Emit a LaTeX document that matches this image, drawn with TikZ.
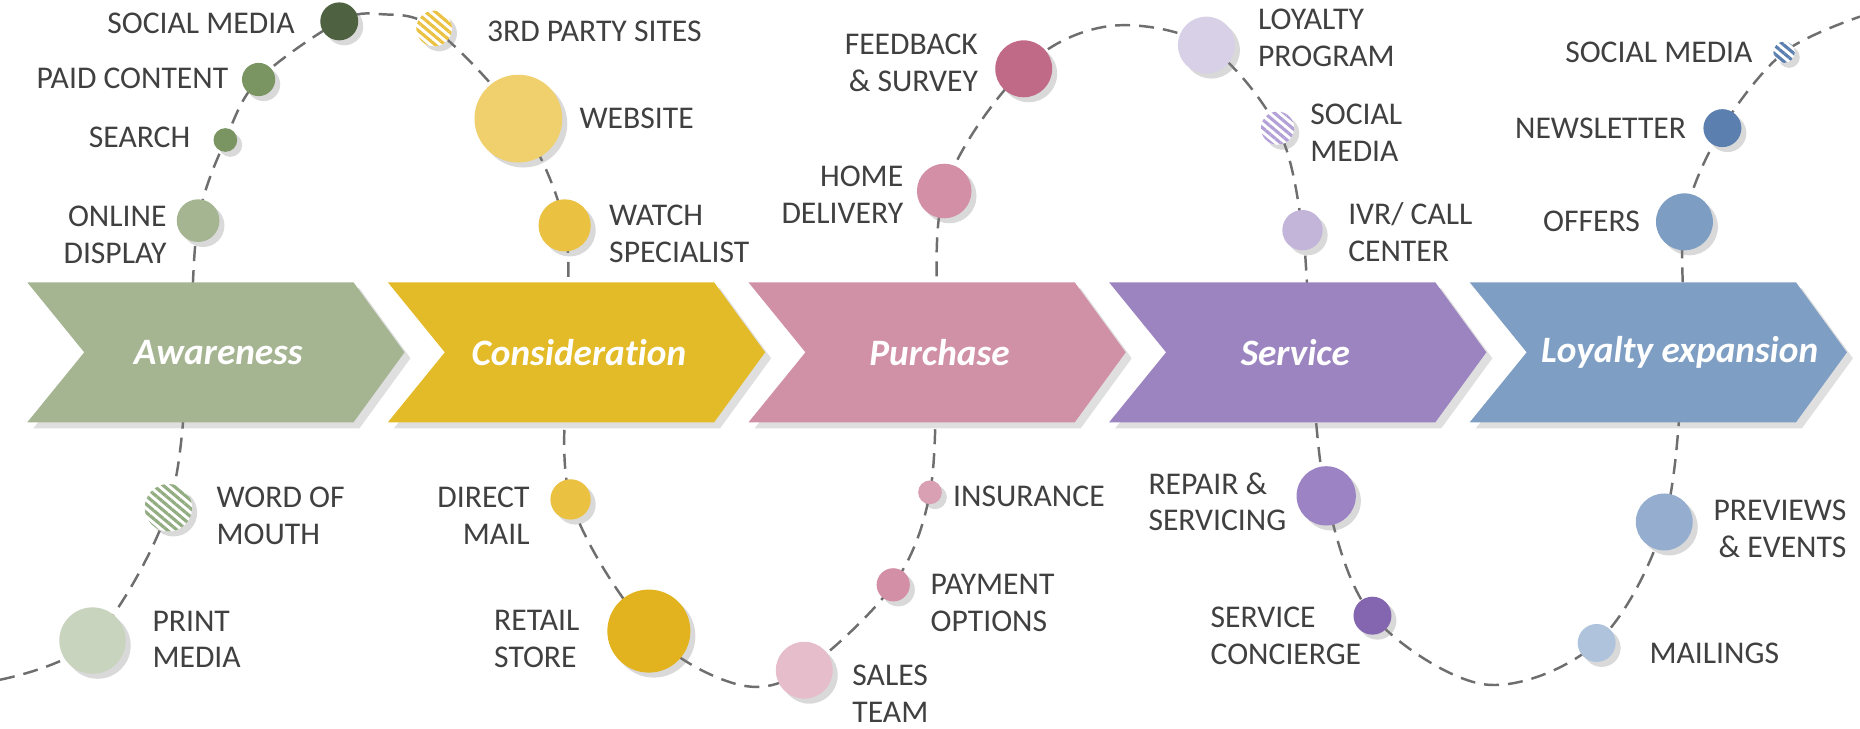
\documentclass[tikz,border=0pt]{standalone}
\usepackage{fontspec}
\setmainfont{Carlito}[Ligatures=NoCommon]
\usetikzlibrary{shadows,patterns.meta,backgrounds}

%% stage colours
\definecolor{stgA}{HTML}{A5B592}
\definecolor{stgB}{HTML}{E3BA28}
\definecolor{stgC}{HTML}{D090A5}
\definecolor{stgD}{HTML}{9C84C0}
\definecolor{stgE}{HTML}{7E9EC3}
%% touchpoint colours
\definecolor{grnPrint}{HTML}{C9D4BF}
\definecolor{grnWom}{HTML}{93AD82}
\definecolor{grnMid}{HTML}{7A9462}
\definecolor{grnDark}{HTML}{4E6140}
\definecolor{yelWeb}{HTML}{EFD06C}
\definecolor{yelMid}{HTML}{EBC141}
\definecolor{yelDeep}{HTML}{E2B31F}
\definecolor{pnkSales}{HTML}{E6BDCA}
\definecolor{pnkMid}{HTML}{D28FA6}
\definecolor{pnkIns}{HTML}{D9A0B4}
\definecolor{pnkDeep}{HTML}{C16A87}
\definecolor{purLoy}{HTML}{D8D0E6}
\definecolor{purSoc}{HTML}{B3A0D6}
\definecolor{purIvr}{HTML}{C3B4DA}
\definecolor{purRep}{HTML}{9C84C4}
\definecolor{purDeep}{HTML}{8465AF}
\definecolor{bluMail}{HTML}{AFC4DC}
\definecolor{bluPrev}{HTML}{95AECF}
\definecolor{bluOff}{HTML}{7E9DC2}
\definecolor{bluDeep}{HTML}{5B80B0}
\definecolor{txtgray}{HTML}{404040}
\definecolor{trailgray}{HTML}{6E6E6E}

\begin{document}
\begin{tikzpicture}[x=0.11862mm, y=-0.11862mm,
  dot/.style={circle, inner sep=0pt, minimum size=#1*0.23724mm,
    drop shadow={opacity=0.3, shadow xshift=0.5mm, shadow yshift=-0.5mm}},
  stripes/.style={preaction={fill=white},
    pattern={Lines[angle=-40, distance=1.8pt, line width=0.9pt]}, pattern color=#1},
  lbl/.style={inner sep=0pt, text=txtgray, font=\fontsize{9}{10.5}\selectfont},
  stage/.style={text=white, font=\fontsize{10.6}{13}\selectfont\bfseries\itshape},
  trail/.style={draw=trailgray, line width=0.7pt, dash pattern=on 1.5mm off 0.9mm}]

  \useasboundingbox (0,0) rectangle (1568,614);

  %% stages
  \foreach \i/\col/\tx/\stg in {0/stgA/184/Awareness, 1/stgB/488/Consideration,
      2/stgC/792/Purchase, 3/stgD/1092/Service, 4/stgE/1416/Loyalty expansion}
  {
    \fill[\col, drop shadow={opacity=0.25, shadow xshift=0.6mm, shadow yshift=-0.6mm}]
      (23+304*\i, 238) -- (298+304*\i, 238) -- (341+304*\i, 297)
      -- (298+304*\i, 356) -- (23+304*\i, 356) -- (71+304*\i, 297) -- cycle;
    \node[stage] (stage\i) at (\tx, 297) {\stg};
  }

  %% awareness
  \node[dot=28, fill=grnPrint] (print) at (78,540) {};
  \node[dot=20, stripes=grnWom] (wom) at (142,428) {};
  \node[dot=18, fill=stgA] (online) at (167,186) {};
  \node[dot=10, fill=grnMid] (search) at (190,118) {};
  \node[dot=14, fill=grnMid] (paid) at (218,67) {};
  \node[dot=16, fill=grnDark] (socA) at (286,18) {};

  \node[lbl, anchor=west, align=left] (printL) at (128,539) {PRINT\\MEDIA};
  \node[lbl, anchor=west, align=left] (womL) at (182,435) {WORD OF\\MOUTH};
  \node[lbl, anchor=east, align=right] (onlineL) at (141,198) {ONLINE\\DISPLAY};
  \node[lbl, anchor=east] (searchL) at (161,116) {SEARCH};
  \node[lbl, anchor=east] (paidL) at (193,66) {PAID CONTENT};
  \node[lbl, anchor=east] (socAL) at (249,20) {SOCIAL MEDIA};

  %% consideration
  \node[dot=15, stripes=yelMid] (third) at (366,24) {};
  \node[dot=37, fill=yelWeb] (web) at (437,100) {};
  \node[dot=22, fill=yelMid] (watch) at (476,190) {};
  \node[dot=17, fill=yelMid] (mail) at (481,421) {};
  \node[dot=35, fill=yelDeep] (retail) at (547,532) {};

  \node[lbl, anchor=west] (thirdL) at (410,26) {3RD PARTY SITES};
  \node[lbl, anchor=west] (webL) at (488,100) {WEBSITE};
  \node[lbl, anchor=west, align=left] (watchL) at (513,197) {WATCH\\SPECIALIST};
  \node[lbl, anchor=east, align=right] (mailL) at (447,435) {DIRECT\\MAIL};
  \node[lbl, anchor=east, align=left] (retailL) at (489,539) {RETAIL\\STORE};

  %% purchase
  \node[dot=24, fill=pnkSales] (sales) at (678,565) {};
  \node[dot=14, fill=pnkMid] (pay) at (753,493) {};
  \node[dot=10, fill=pnkIns] (ins) at (784,415) {};
  \node[dot=23, fill=pnkMid] (home) at (796,161) {};
  \node[dot=24, fill=pnkDeep] (feed) at (863,58) {};

  \node[lbl, anchor=west, align=left] (salesL) at (718,585) {SALES\\TEAM};
  \node[lbl, anchor=west, align=left] (payL) at (784,508) {PAYMENT\\OPTIONS};
  \node[lbl, anchor=west] (insL) at (803,418) {INSURANCE};
  \node[lbl, anchor=east, align=right] (homeL) at (762,164) {HOME\\DELIVERY};
  \node[lbl, anchor=east, align=right] (feedL) at (825,53) {FEEDBACK\\\& SURVEY};

  %% service
  \node[dot=24, fill=purLoy] (loyal) at (1017,38) {};
  \node[dot=14, stripes=purSoc] (socD) at (1077,108) {};
  \node[dot=17, fill=purIvr] (ivr) at (1098,194) {};
  \node[dot=25, fill=purRep] (repair) at (1118,418) {};
  \node[dot=16, fill=purDeep] (conc) at (1157,519) {};

  \node[lbl, anchor=west, align=left] (loyalL) at (1060,32) {LOYALTY\\PROGRAM};
  \node[lbl, anchor=west, align=left] (socDL) at (1104,112) {SOCIAL\\MEDIA};
  \node[lbl, anchor=west, align=left] (ivrL) at (1136,196) {IVR/ CALL\\CENTER};
  \node[lbl, anchor=east, align=left] (repairL) at (1085,423) {REPAIR \&\\SERVICING};
  \node[lbl, anchor=west, align=left] (concL) at (1020,536) {SERVICE\\CONCIERGE};

  %% loyalty expansion
  \node[dot=16, fill=bluMail] (mailing) at (1346,542) {};
  \node[dot=24, fill=bluPrev] (prev) at (1403,440) {};
  \node[dot=24, fill=bluOff] (offer) at (1420,187) {};
  \node[dot=16, fill=bluDeep] (news) at (1452,108) {};
  \node[dot=9, stripes=bluDeep] (socE) at (1504,44) {};

  \node[lbl, anchor=west] (mailingL) at (1390,551) {MAILINGS};
  \node[lbl, anchor=west, align=right] (prevL) at (1444,446) {PREVIEWS\\\& EVENTS};
  \node[lbl, anchor=east] (offerL) at (1383,187) {OFFERS};
  \node[lbl, anchor=east] (newsL) at (1422,108) {NEWSLETTER};
  \node[lbl, anchor=east] (socEL) at (1478,44) {SOCIAL MEDIA};

  %% turning points of the trail
  \coordinate (start) at (0,573);
  \coordinate (x1) at (159,297);
  \coordinate (top1) at (322,12);
  \coordinate (x2) at (478,297);
  \coordinate (low1) at (622,577);
  \coordinate (x3) at (790,297);
  \coordinate (top2) at (935,22);
  \coordinate (x4) at (1105,297);
  \coordinate (low2) at (1252,577);
  \coordinate (x5) at (1419,297);
  \coordinate (end) at (1568,14);

  \begin{pgfonlayer}{background}
    \draw[trail] plot[smooth, tension=0.55] coordinates {(start) (print.center)
      (wom.center) (x1) (online.center) (search.center) (paid.center)
      (socA.center) (top1) (third.center) (web.center) (watch.center) (x2)
      (mail.center) (retail.center) (low1) (sales.center) (pay.center)
      (ins.center) (x3) (home.center) (feed.center) (top2) (loyal.center)
      (socD.center) (ivr.center) (x4) (repair.center) (conc.center) (low2)
      (mailing.center) (prev.center) (x5) (offer.center) (news.center)
      (socE.center) (end)};
  \end{pgfonlayer}

\end{tikzpicture}
\end{document}
